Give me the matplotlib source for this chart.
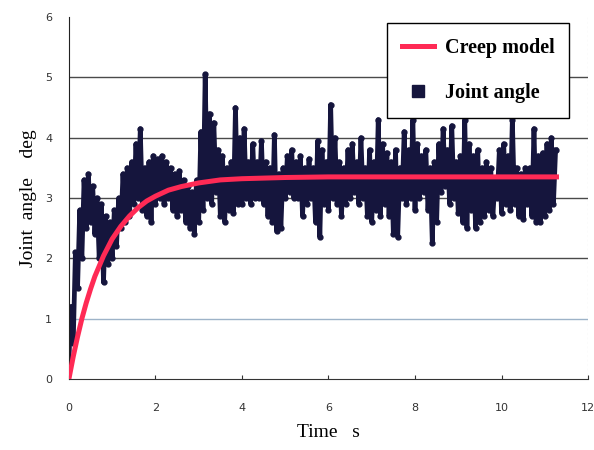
import matplotlib.pyplot as plt
import numpy as np
from matplotlib.lines import Line2D

# Joint angle samples (deg), one every 0.05 s from t = 0
sample_dt = 0.05
joint_angle = [
    0.3, 1.2, 0.6, 2.1, 1.5, 2.8, 2.0, 3.3, 2.5, 3.4, 2.6, 3.2, 2.4, 3.0, 2.0, 2.9, 1.6, 2.7, 1.9, 2.6,
    2.0, 2.8, 2.2, 3.0, 2.5, 3.4, 2.6, 3.5, 2.7, 3.6, 2.9, 3.9, 3.0, 4.15, 2.8, 3.5, 2.7, 3.6, 2.6, 3.7,
    2.9, 3.65, 3.0, 3.7, 2.9, 3.6, 3.0, 3.5, 2.8, 3.4, 2.7, 3.45, 2.8, 3.3, 2.6, 3.2, 2.5, 3.1, 2.4, 3.3,
    2.6, 4.1, 2.8, 5.05, 3.0, 4.4, 2.9, 4.25, 3.1, 3.8, 2.7, 3.7, 2.6, 3.5, 2.8, 3.6, 2.75, 4.5, 2.9, 4.0,
    2.9, 4.15, 3.0, 3.6, 2.9, 3.9, 3.0, 3.6, 3.0, 3.95, 2.9, 3.6, 2.7, 3.5, 2.6, 4.05, 2.45, 3.4, 2.5, 3.5,
    3.0, 3.7, 3.1, 3.8, 3.0, 3.6, 3.0, 3.7, 2.7, 3.5, 2.9, 3.65, 3.0, 3.5, 2.6, 3.95, 2.35, 3.8, 2.9, 3.6,
    2.8, 4.55, 3.0, 4.0, 2.9, 3.6, 2.7, 3.5, 2.9, 3.8, 3.0, 3.9, 3.1, 3.6, 2.9, 4.0, 3.0, 3.5, 2.7, 3.8,
    2.6, 3.6, 2.8, 4.3, 2.7, 3.9, 2.9, 3.75, 2.7, 3.6, 2.4, 3.8, 2.35, 3.5, 3.0, 4.1, 2.9, 3.8, 3.0, 4.3,
    2.8, 3.9, 3.0, 3.7, 3.1, 3.8, 2.8, 3.5, 2.25, 3.6, 2.6, 3.9, 3.1, 4.15, 3.2, 3.8, 2.9, 4.2, 3.0, 3.6,
    2.75, 3.7, 2.6, 4.3, 2.5, 3.9, 2.8, 3.7, 2.5, 3.8, 2.6, 3.5, 2.7, 3.6, 2.8, 3.5, 2.7, 3.3, 3.0, 3.8,
    2.75, 3.9, 2.9, 3.7, 2.8, 4.3, 2.9, 3.5, 2.7, 3.4, 2.65, 3.5, 2.9, 3.5, 2.7, 4.15, 2.6, 3.7, 2.6, 3.75,
    2.7, 3.9, 2.8, 4.0, 2.9, 3.8,
]
t_joint = np.arange(len(joint_angle)) * sample_dt

# Creep model curve
t_creep = [0, 0.1, 0.2, 0.3, 0.4, 0.5, 0.6, 0.8, 1.0, 1.2, 1.4, 1.6, 1.8, 2.0,
           2.3, 2.6, 3.0, 3.5, 4.0, 5.0, 6.0, 8.0, 10.0, 11.27]
creep = [0, 0.37, 0.70, 1.00, 1.26, 1.49, 1.70, 2.04, 2.32, 2.53, 2.70, 2.84, 2.95, 3.03,
         3.13, 3.19, 3.25, 3.30, 3.32, 3.34, 3.35, 3.35, 3.35, 3.35]

navy = '#15153d'
red = '#ff2a55'

fig = plt.figure(figsize=(5.94, 4.5), dpi=100)
ax = fig.add_axes([0.116, 0.158, 0.874, 0.804])

# gridlines
for y in [1, 2, 3, 4, 5]:
    ax.axhline(y, color='#9db3c8' if y == 1 else '#4a4a4a', lw=1.0, zorder=0)
ax.axvline(12, color='#c8c8c8', lw=0.8, ls=(0, (2, 2)), zorder=0)

ax.plot(t_joint, joint_angle, color=navy, lw=3.4, marker='o', ms=3.5,
        label='Joint angle', zorder=2)
ax.plot(t_creep, creep, color=red, lw=3.6, label='Creep model', zorder=3)

ax.set_xlim(0, 12)
ax.set_ylim(0, 6)
ax.set_xticks([0, 2, 4, 6, 8, 10, 12])
ax.set_yticks([0, 1, 2, 3, 4, 5, 6])
ax.tick_params(axis='x', direction='in', length=3, colors='#333333', labelsize=8, pad=17)
ax.tick_params(axis='y', length=0, colors='#333333', labelsize=8, pad=12)

for s in ['top', 'right']:
    ax.spines[s].set_visible(False)
ax.spines['left'].set_color('#222222')
ax.spines['bottom'].set_color('#333333')

ax.set_xlabel('Time   s', family='Liberation Serif', fontsize=14, labelpad=8)
ax.set_ylabel('Joint  angle    deg', family='Liberation Serif', fontsize=14, labelpad=6)

h = [Line2D([], [], color=red, lw=3.6),
     Line2D([], [], color=navy, ls='', marker='s', ms=8)]
leg = ax.legend(h, ['Creep model', 'Joint angle'], loc='upper left',
                bbox_to_anchor=(0.613, 0.985), fancybox=False, framealpha=1,
                edgecolor='black', handlelength=1.6, handletextpad=0.5, labelspacing=1.25,
                borderpad=0.75, borderaxespad=0,
                prop={'family': 'Liberation Serif', 'weight': 'bold', 'size': 14.5})
leg.get_frame().set_linewidth(1.0)

fig.savefig('out.png', dpi=100)
